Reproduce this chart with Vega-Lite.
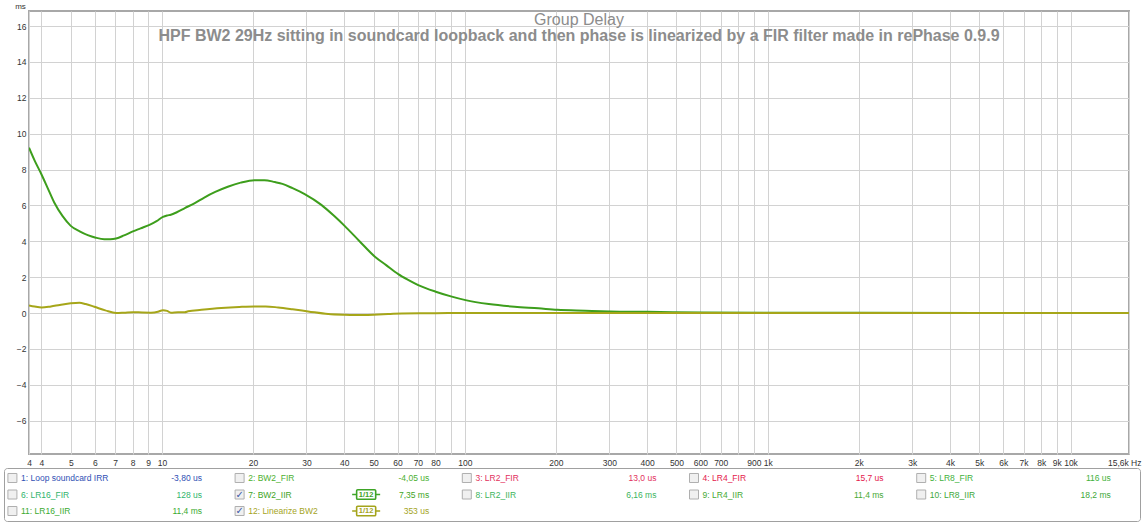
{
  "$schema": "https://vega.github.io/schema/vega-lite/v6.json",
  "background": "white",
  "padding": {"left": 3, "top": 1, "right": 0, "bottom": 0},
  "spacing": -2,
  "resolve": {"scale": {"color": "independent"}},
  "config": {
    "font": "Liberation Sans",
    "view": {"stroke": null},
    "axis": {"labelFont": "Liberation Sans", "titleFont": "Liberation Sans"}
  },
  "datasets": {
    "curves": [
      {"series": "BW2_IIR", "freq": 3.64, "ms": 9.22},
      {"series": "BW2_IIR", "freq": 3.8, "ms": 8.5},
      {"series": "BW2_IIR", "freq": 4.0, "ms": 7.74},
      {"series": "BW2_IIR", "freq": 4.2, "ms": 6.95},
      {"series": "BW2_IIR", "freq": 4.41, "ms": 6.16},
      {"series": "BW2_IIR", "freq": 4.7, "ms": 5.4},
      {"series": "BW2_IIR", "freq": 5.0, "ms": 4.86},
      {"series": "BW2_IIR", "freq": 5.35, "ms": 4.55},
      {"series": "BW2_IIR", "freq": 5.69, "ms": 4.34},
      {"series": "BW2_IIR", "freq": 6.05, "ms": 4.2},
      {"series": "BW2_IIR", "freq": 6.45, "ms": 4.12},
      {"series": "BW2_IIR", "freq": 6.75, "ms": 4.12},
      {"series": "BW2_IIR", "freq": 7.06, "ms": 4.16},
      {"series": "BW2_IIR", "freq": 7.5, "ms": 4.33},
      {"series": "BW2_IIR", "freq": 8.02, "ms": 4.55},
      {"series": "BW2_IIR", "freq": 8.5, "ms": 4.72},
      {"series": "BW2_IIR", "freq": 9.1, "ms": 4.92},
      {"series": "BW2_IIR", "freq": 9.6, "ms": 5.12},
      {"series": "BW2_IIR", "freq": 10.08, "ms": 5.36},
      {"series": "BW2_IIR", "freq": 10.4, "ms": 5.44},
      {"series": "BW2_IIR", "freq": 10.7, "ms": 5.48},
      {"series": "BW2_IIR", "freq": 11.2, "ms": 5.62},
      {"series": "BW2_IIR", "freq": 11.9, "ms": 5.85},
      {"series": "BW2_IIR", "freq": 12.8, "ms": 6.12},
      {"series": "BW2_IIR", "freq": 13.8, "ms": 6.44},
      {"series": "BW2_IIR", "freq": 15.0, "ms": 6.75},
      {"series": "BW2_IIR", "freq": 16.5, "ms": 7.04},
      {"series": "BW2_IIR", "freq": 18.2, "ms": 7.27},
      {"series": "BW2_IIR", "freq": 20.2, "ms": 7.41},
      {"series": "BW2_IIR", "freq": 21.8, "ms": 7.41},
      {"series": "BW2_IIR", "freq": 23.6, "ms": 7.3},
      {"series": "BW2_IIR", "freq": 25.0, "ms": 7.2},
      {"series": "BW2_IIR", "freq": 27.0, "ms": 6.96},
      {"series": "BW2_IIR", "freq": 29.6, "ms": 6.63},
      {"series": "BW2_IIR", "freq": 33.6, "ms": 6.03},
      {"series": "BW2_IIR", "freq": 37.0, "ms": 5.42},
      {"series": "BW2_IIR", "freq": 40.1, "ms": 4.86},
      {"series": "BW2_IIR", "freq": 45.0, "ms": 3.99},
      {"series": "BW2_IIR", "freq": 50.5, "ms": 3.14},
      {"series": "BW2_IIR", "freq": 55.0, "ms": 2.67},
      {"series": "BW2_IIR", "freq": 60.3, "ms": 2.17},
      {"series": "BW2_IIR", "freq": 65.0, "ms": 1.85},
      {"series": "BW2_IIR", "freq": 70.2, "ms": 1.56},
      {"series": "BW2_IIR", "freq": 80.2, "ms": 1.19},
      {"series": "BW2_IIR", "freq": 90.0, "ms": 0.93},
      {"series": "BW2_IIR", "freq": 100.6, "ms": 0.72},
      {"series": "BW2_IIR", "freq": 120.0, "ms": 0.5},
      {"series": "BW2_IIR", "freq": 146.0, "ms": 0.35},
      {"series": "BW2_IIR", "freq": 175.0, "ms": 0.26},
      {"series": "BW2_IIR", "freq": 202.0, "ms": 0.18},
      {"series": "BW2_IIR", "freq": 250.0, "ms": 0.13},
      {"series": "BW2_IIR", "freq": 302.0, "ms": 0.09},
      {"series": "BW2_IIR", "freq": 400.0, "ms": 0.07},
      {"series": "BW2_IIR", "freq": 607.0, "ms": 0.03},
      {"series": "BW2_IIR", "freq": 1000.0, "ms": 0.02},
      {"series": "BW2_IIR", "freq": 2000.0, "ms": 0.01},
      {"series": "BW2_IIR", "freq": 5000.0, "ms": 0.0},
      {"series": "BW2_IIR", "freq": 15600.0, "ms": 0.0},
      {"series": "Linearize BW2", "freq": 3.64, "ms": 0.42},
      {"series": "Linearize BW2", "freq": 3.8, "ms": 0.36},
      {"series": "Linearize BW2", "freq": 4.01, "ms": 0.31},
      {"series": "Linearize BW2", "freq": 4.3, "ms": 0.37},
      {"series": "Linearize BW2", "freq": 4.6, "ms": 0.45},
      {"series": "Linearize BW2", "freq": 5.0, "ms": 0.54},
      {"series": "Linearize BW2", "freq": 5.34, "ms": 0.57},
      {"series": "Linearize BW2", "freq": 5.6, "ms": 0.5},
      {"series": "Linearize BW2", "freq": 5.98, "ms": 0.35},
      {"series": "Linearize BW2", "freq": 6.5, "ms": 0.15},
      {"series": "Linearize BW2", "freq": 7.06, "ms": 0.0},
      {"series": "Linearize BW2", "freq": 7.5, "ms": 0.02},
      {"series": "Linearize BW2", "freq": 8.02, "ms": 0.05},
      {"series": "Linearize BW2", "freq": 8.6, "ms": 0.03},
      {"series": "Linearize BW2", "freq": 9.2, "ms": 0.02},
      {"series": "Linearize BW2", "freq": 9.7, "ms": 0.07},
      {"series": "Linearize BW2", "freq": 10.08, "ms": 0.16},
      {"series": "Linearize BW2", "freq": 10.4, "ms": 0.12},
      {"series": "Linearize BW2", "freq": 10.7, "ms": 0.02},
      {"series": "Linearize BW2", "freq": 11.3, "ms": 0.05},
      {"series": "Linearize BW2", "freq": 11.9, "ms": 0.04},
      {"series": "Linearize BW2", "freq": 12.2, "ms": 0.1},
      {"series": "Linearize BW2", "freq": 13.5, "ms": 0.18},
      {"series": "Linearize BW2", "freq": 15.7, "ms": 0.28},
      {"series": "Linearize BW2", "freq": 18.0, "ms": 0.34},
      {"series": "Linearize BW2", "freq": 20.2, "ms": 0.37},
      {"series": "Linearize BW2", "freq": 22.0, "ms": 0.37},
      {"series": "Linearize BW2", "freq": 24.2, "ms": 0.31},
      {"series": "Linearize BW2", "freq": 27.0, "ms": 0.21},
      {"series": "Linearize BW2", "freq": 30.4, "ms": 0.09},
      {"series": "Linearize BW2", "freq": 35.4, "ms": -0.06},
      {"series": "Linearize BW2", "freq": 40.0, "ms": -0.1},
      {"series": "Linearize BW2", "freq": 43.3, "ms": -0.11},
      {"series": "Linearize BW2", "freq": 50.0, "ms": -0.09},
      {"series": "Linearize BW2", "freq": 55.8, "ms": -0.06},
      {"series": "Linearize BW2", "freq": 62.0, "ms": -0.02},
      {"series": "Linearize BW2", "freq": 80.0, "ms": -0.01},
      {"series": "Linearize BW2", "freq": 100.0, "ms": 0.0},
      {"series": "Linearize BW2", "freq": 15600.0, "ms": 0.0}
    ],
    "legend": [
      {"col": 1, "row": 1, "name": "1: Loop soundcard IRR", "value": "-3,80 us", "checked": false, "smooth": ""},
      {"col": 2, "row": 1, "name": "2: BW2_FIR", "value": "-4,05 us", "checked": false, "smooth": ""},
      {"col": 3, "row": 1, "name": "3: LR2_FIR", "value": "13,0 us", "checked": false, "smooth": ""},
      {"col": 4, "row": 1, "name": "4: LR4_FIR", "value": "15,7 us", "checked": false, "smooth": ""},
      {"col": 5, "row": 1, "name": "5: LR8_FIR", "value": "116 us", "checked": false, "smooth": ""},
      {"col": 1, "row": 2, "name": "6: LR16_FIR", "value": "128 us", "checked": false, "smooth": ""},
      {"col": 2, "row": 2, "name": "7: BW2_IIR", "value": "7,35 ms", "checked": true, "smooth": "1/12"},
      {"col": 3, "row": 2, "name": "8: LR2_IIR", "value": "6,16 ms", "checked": false, "smooth": ""},
      {"col": 4, "row": 2, "name": "9: LR4_IIR", "value": "11,4 ms", "checked": false, "smooth": ""},
      {"col": 5, "row": 2, "name": "10: LR8_IIR", "value": "18,2 ms", "checked": false, "smooth": ""},
      {"col": 1, "row": 3, "name": "11: LR16_IIR", "value": "11,4 ms", "checked": false, "smooth": ""},
      {"col": 2, "row": 3, "name": "12: Linearize BW2", "value": "353 us", "checked": true, "smooth": "1/12"}
    ]
  },
  "vconcat": [
    {
      "spacing": 8,
      "hconcat": [
        {
          "width": 1,
          "height": 443,
          "data": {"values": [{"k": 1}]},
          "mark": {"type": "text", "text": ""},
          "encoding": {}
        },
        {
          "width": 1100,
          "height": 443,
          "title": {
            "text": "Group Delay",
            "subtitle": "HPF BW2 29Hz sitting in soundcard loopback and then phase is linearized by a FIR filter made in rePhase 0.9.9",
            "anchor": "middle",
            "frame": "group",
            "offset": -42,
            "fontSize": 16,
            "fontWeight": "normal",
            "color": "#8c8c8c",
            "subtitleFontSize": 16,
            "subtitleFontWeight": "bold",
            "subtitleColor": "#8c8c8c",
            "subtitlePadding": 0
          },
          "view": {"stroke": "#a8a8a8", "strokeWidth": 2},
          "data": {"name": "curves"},
          "mark": {"type": "line", "strokeWidth": 2, "clip": true, "interpolate": "monotone"},
          "encoding": {
            "x": {
              "field": "freq",
              "type": "quantitative",
              "scale": {"type": "log", "domain": [3.64, 15600], "nice": false},
              "axis": {
                "title": null,
                "values": [3.64, 4, 5, 6, 7, 8, 9, 10, 20, 30, 40, 50, 60, 70, 80, 90, 100, 200, 300, 400, 500, 600, 700, 800, 900, 1000, 2000, 3000, 4000, 5000, 6000, 7000, 8000, 9000, 10000, 15600],
                "labelExpr": "datum.value > 15000 ? '15,6k Hz' : (datum.value == 90 || datum.value == 800) ? '' : datum.value >= 1000 ? (datum.value / 1000) + 'k' : '' + round(datum.value)",
                "labelOverlap": false,
                "labelFlush": false,
                "labelAlign": {"condition": {"test": "datum.value > 15000", "value": "right"}, "value": "center"},
                "labelOffset": {"condition": {"test": "datum.value > 15000", "value": 12}, "value": 0},
                "labelPadding": 4,
                "labelFontSize": 8.5,
                "labelColor": "#333333",
                "ticks": false,
                "domain": false,
                "grid": true,
                "gridColor": "#d2d2d2",
                "gridWidth": 1
              }
            },
            "y": {
              "field": "ms",
              "type": "quantitative",
              "scale": {"domain": [-7.86, 16.84], "nice": false, "zero": false},
              "axis": {
                "values": [-6, -4, -2, 0, 2, 4, 6, 8, 10, 12, 14, 16],
                "title": "ms",
                "titleAngle": 0,
                "titleX": -9,
                "titleY": -3,
                "titleAlign": "center",
                "titleBaseline": "alphabetic",
                "titleFontSize": 8,
                "titleFontWeight": "normal",
                "titleColor": "#333333",
                "labelFontSize": 8.5,
                "labelColor": "#333333",
                "labelPadding": 3,
                "ticks": false,
                "domain": false,
                "gridColor": "#d2d2d2",
                "gridWidth": 1
              }
            },
            "color": {
              "field": "series",
              "type": "nominal",
              "scale": {"domain": ["BW2_IIR", "Linearize BW2"], "range": ["#3d9e1c", "#a6a619"]},
              "legend": null
            }
          }
        }
      ]
    },
    {
      "width": 1136,
      "height": 53,
      "view": {"stroke": "#a0a0a0", "strokeWidth": 1, "cornerRadius": 3},
      "data": {"name": "legend"},
      "encoding": {
        "x": {"field": "col", "type": "ordinal", "scale": {"type": "band", "paddingInner": 0, "paddingOuter": 0}, "axis": null},
        "y": {"field": "row", "type": "ordinal", "scale": {"type": "band", "paddingInner": 0, "paddingOuter": 0.106}, "axis": null}
      },
      "layer": [
        {
          "mark": {"type": "square", "size": 81, "filled": true, "fill": "#ebebeb", "stroke": "#8e8e8e", "strokeWidth": 1},
          "encoding": {
            "x": {"field": "col", "type": "ordinal", "bandPosition": 0.037}
          }
        },
        {
          "transform": [{"filter": "datum.checked"}],
          "mark": {"type": "text", "text": "✓", "font": "DejaVu Sans", "fontSize": 10, "color": "#3a58a8", "align": "center", "baseline": "middle"},
          "encoding": {
            "x": {"field": "col", "type": "ordinal", "bandPosition": 0.037}
          }
        },
        {
          "mark": {"type": "text", "align": "left", "baseline": "middle", "fontSize": 8.5, "dx": 17},
          "encoding": {
            "x": {"field": "col", "type": "ordinal", "bandPosition": 0},
            "text": {"field": "name"},
            "color": {
              "field": "name",
              "type": "nominal",
              "scale": {
                "domain": ["1: Loop soundcard IRR", "2: BW2_FIR", "3: LR2_FIR", "4: LR4_FIR", "5: LR8_FIR", "6: LR16_FIR", "7: BW2_IIR", "8: LR2_IIR", "9: LR4_IIR", "10: LR8_IIR", "11: LR16_IIR", "12: Linearize BW2"],
                "range": ["#2f4fb4", "#4cb030", "#e2305c", "#e4204c", "#3fb23c", "#2fb46c", "#3ea426", "#3cb45c", "#48aa34", "#40a83a", "#3aaa30", "#a4a41c"]
              },
              "legend": null
            }
          }
        },
        {
          "mark": {"type": "text", "align": "right", "baseline": "middle", "fontSize": 8.5, "dx": 198},
          "encoding": {
            "x": {"field": "col", "type": "ordinal", "bandPosition": 0},
            "text": {"field": "value"},
            "color": {"field": "name", "type": "nominal", "legend": null}
          }
        },
        {
          "transform": [{"filter": "datum.smooth != ''"}],
          "mark": {
            "type": "point",
            "shape": "M-1,0H-0.68M0.68,0H1M-0.6,-0.34H0.6Q0.68,-0.34 0.68,-0.26V0.26Q0.68,0.34 0.6,0.34H-0.6Q-0.68,0.34 -0.68,0.26V-0.26Q-0.68,-0.34 -0.6,-0.34Z",
            "size": 784,
            "filled": false,
            "strokeWidth": 1.6,
            "opacity": 1
          },
          "encoding": {
            "x": {"field": "col", "type": "ordinal", "bandPosition": 0.594},
            "color": {"field": "name", "type": "nominal", "legend": null}
          }
        },
        {
          "transform": [{"filter": "datum.smooth != ''"}],
          "mark": {"type": "text", "align": "center", "baseline": "middle", "fontSize": 7.5, "fontWeight": "bold"},
          "encoding": {
            "x": {"field": "col", "type": "ordinal", "bandPosition": 0.594},
            "text": {"field": "smooth"},
            "color": {"field": "name", "type": "nominal", "legend": null}
          }
        }
      ]
    }
  ]
}
